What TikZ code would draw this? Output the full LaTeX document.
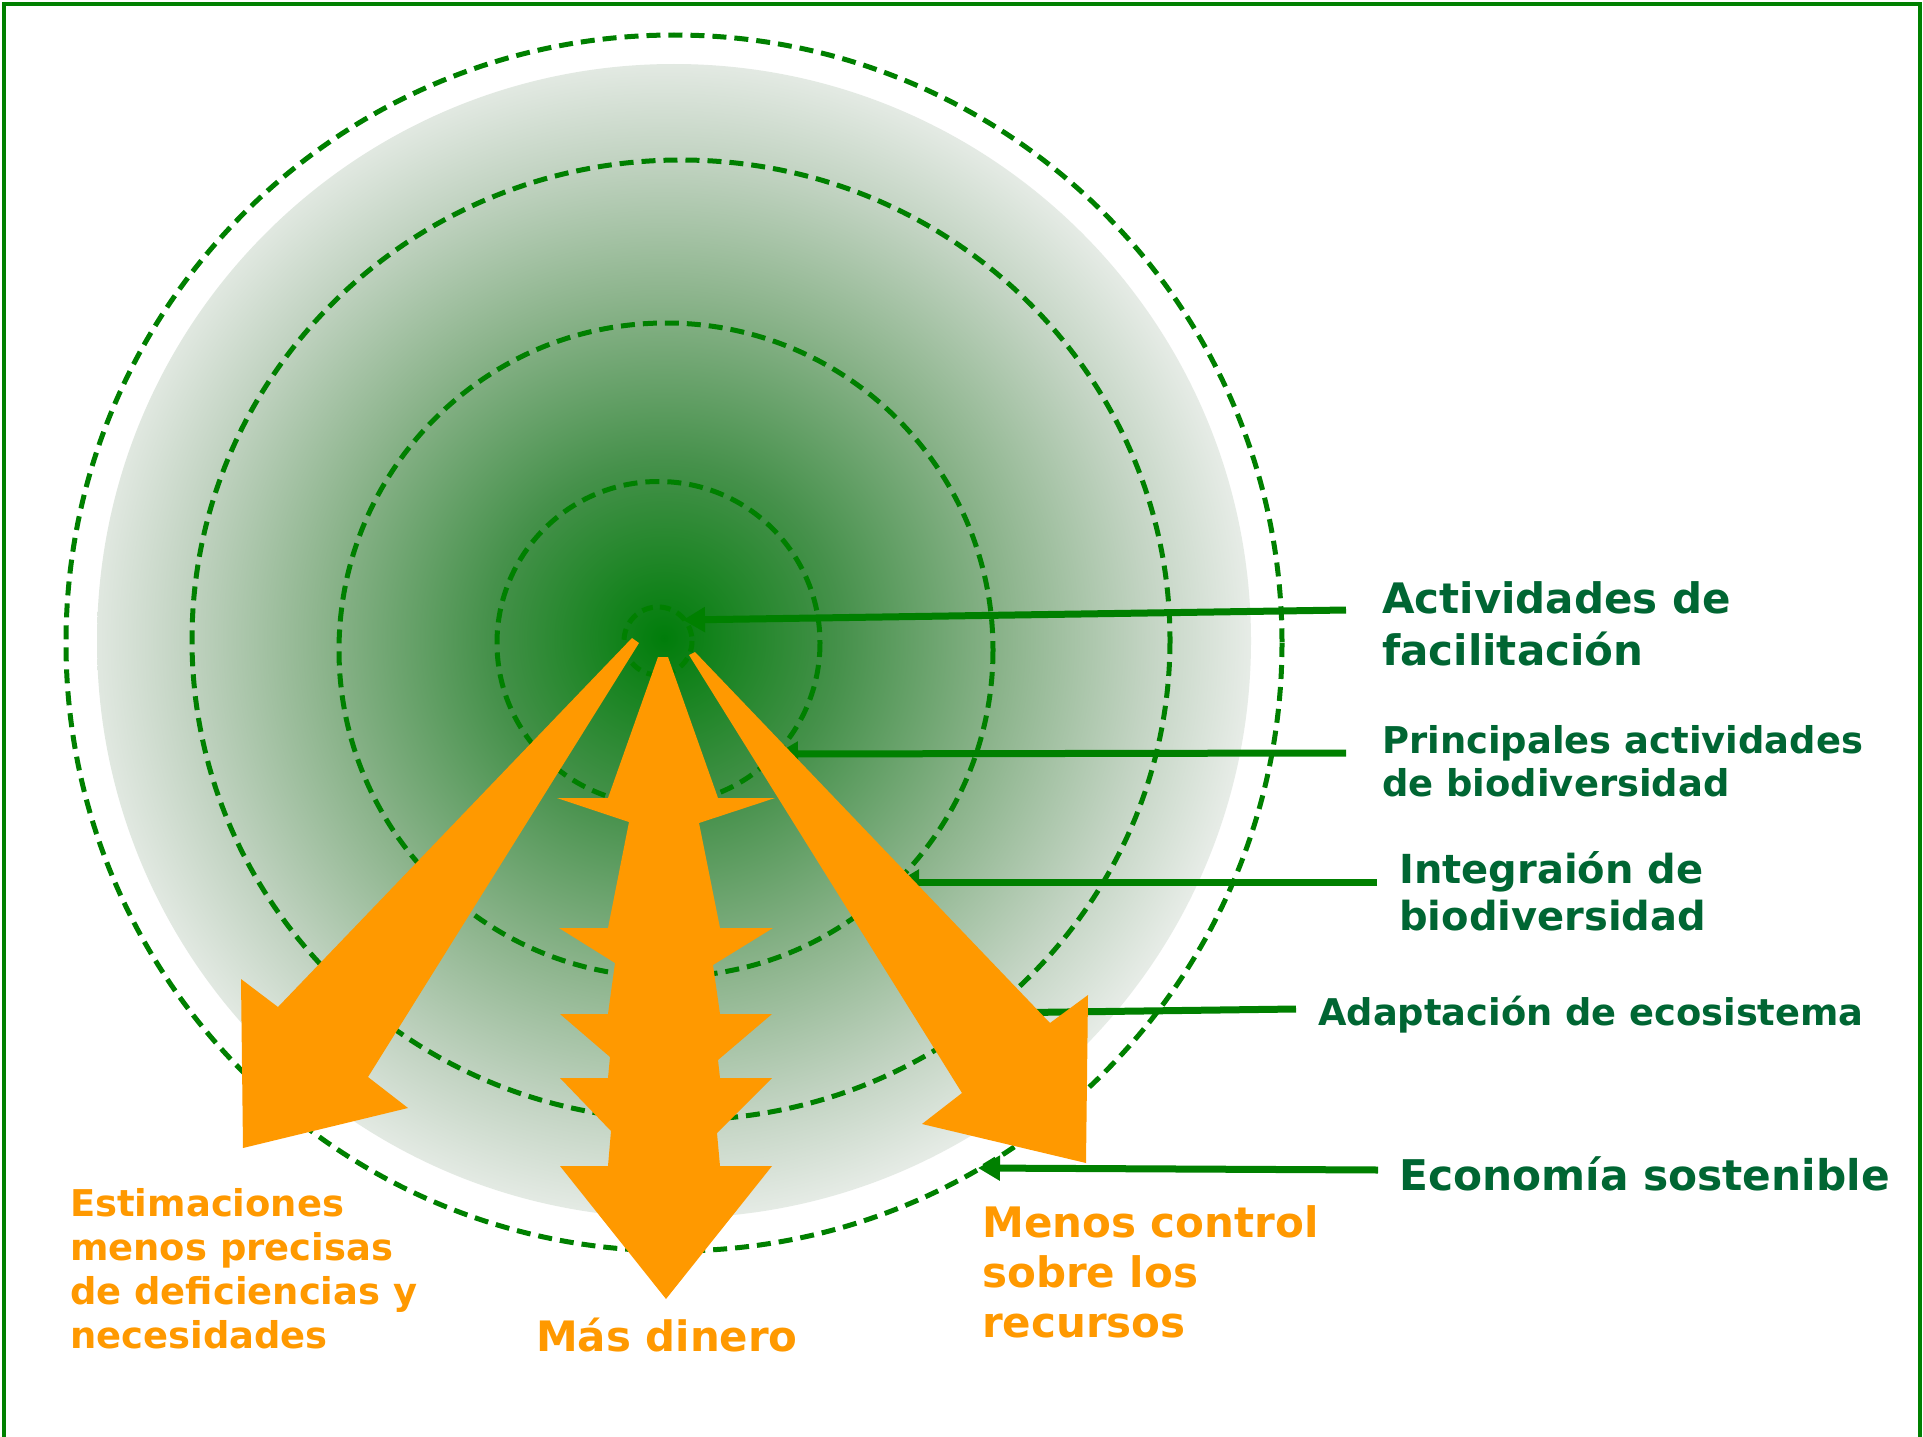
\documentclass[tikz,border=0pt]{standalone}
\usepackage{fontspec}
\setmainfont{DejaVu Sans}
\usetikzlibrary{arrows.meta}
\definecolor{gline}{RGB}{0,128,0}
\definecolor{glabel}{RGB}{0,102,51}
\definecolor{orng}{RGB}{255,153,0}
\definecolor{g0}{RGB}{0,125,10}
\definecolor{g1}{RGB}{70,145,75}
\definecolor{g2}{RGB}{140,180,140}
\definecolor{g3}{RGB}{195,212,195}
\definecolor{g4}{RGB}{232,237,232}
\pgfdeclareradialshading{discshade}{\pgfpoint{0bp}{0bp}}{color(0bp)=(g0); color(7.5bp)=(g1); color(14.5bp)=(g2); color(20.5bp)=(g3); color(25bp)=(g4); color(50bp)=(g4)}
\begin{document}
\begin{tikzpicture}[x=1pt,y=-1pt,
  dcirc/.style={draw=gline, line width=5pt, dash pattern=on 14pt off 8pt},
  conn/.style={draw=gline, line width=7pt, -{Triangle[length=22pt,width=24pt]}},
  glab/.style={text=glabel, anchor=base west, align=left, inner sep=0pt},
  olab/.style={text=orng, anchor=base west, align=left, inner sep=0pt},
  oarrow/.style={fill=orng, draw=none}]
\useasboundingbox (0,0) rectangle (1923,1437);
\fill[white] (0,0) rectangle (1923,1437);
% frame
\draw[gline, line width=4pt] (4,1445) -- (4,4) -- (1920,4) -- (1920,1445);
% shaded disc
\begin{scope}
  \clip (674,641) circle (577);
  \shade[shading=discshade] (664,638) circle (590);
\end{scope}
% dashed circles
\draw[dcirc] (674,643) circle (608);
\draw[dcirc] (681,640) ellipse [x radius=489, y radius=480];
\draw[dcirc] (666,650) circle (327);
\draw[dcirc] (658.5,643) circle (161.5);
\draw[dcirc, dash pattern=on 11pt off 7pt] (658,641) circle (34);
% labels (multi-line nodes: base = last line)
\node[glab, font={\fontsize{42}{51.7}\selectfont\bfseries}] (lab1) at (1382,665) {Actividades de\\facilitación};
\node[glab, font={\fontsize{36.9}{43}\selectfont\bfseries}] (lab2) at (1382,796) {Principales actividades\\de biodiversidad};
\node[glab, font={\fontsize{40}{47}\selectfont\bfseries}] (lab3) at (1399,930) {Integraión de\\biodiversidad};
\node[glab, font={\fontsize{36.8}{43}\selectfont\bfseries}] (lab4) at (1318,1025) {Adaptación de ecosistema};
\node[glab, font={\fontsize{42.3}{50}\selectfont\bfseries}] (lab5) at (1399,1190) {Economía sostenible};
\node[olab, font={\fontsize{36.9}{44}\selectfont\bfseries}] (lab6) at (70,1348) {Estimaciones\\menos precisas\\de deficiencias y\\necesidades};
\node[olab, font={\fontsize{41.9}{50}\selectfont\bfseries}] (lab7) at (536,1351) {Más dinero};
\node[olab, font={\fontsize{42}{50}\selectfont\bfseries}] (lab8) at (982,1337) {Menos control\\sobre los\\recursos};
% connector coordinates
\coordinate (s1) at (1346,610);   \coordinate (e1) at (683,620);
\coordinate (s2) at (1346,753);   \coordinate (e2) at (776,754);
\coordinate (s3) at (1377,882);   \coordinate (e3) at (897,882);
\coordinate (s4) at (1296,1009);  \coordinate (e4) at (990,1013);
\coordinate (s5) at (1378,1170);  \coordinate (e5) at (978,1168);
\draw[conn] (s1) -- (e1);
\draw[conn] (s2) -- (e2);
\draw[conn] (s3) -- (e3);
\draw[conn] (s4) -- (e4);
\draw[conn] (s5) -- (e5);
% orange arrows
\fill[oarrow] (632,638) -- (639,643) -- (368,1077) -- (408,1108) -- (243,1148) -- (241,979) -- (278,1007) -- cycle;
\fill[oarrow] (689,655) -- (695,652) -- (1050,1023) -- (1088,995) -- (1086,1163) -- (922,1124) -- (962,1093) -- cycle;
\fill[oarrow] (658,657) -- (668,657) -- (718,798) -- (775,798) -- (699,823) -- (720,928) -- (773,928) -- (713,965)
  -- (720,1014) -- (772,1014) -- (718,1060) -- (720,1078) -- (772,1078) -- (717,1133) -- (720,1166) -- (772,1166)
  -- (666,1299) -- (560,1166) -- (608,1166) -- (611,1131) -- (560,1078) -- (608,1078) -- (610,1057) -- (560,1014)
  -- (608,1014) -- (615,963) -- (559,928) -- (608,928) -- (629,822) -- (557,798) -- (608,798) -- cycle;
\end{tikzpicture}
\end{document}
